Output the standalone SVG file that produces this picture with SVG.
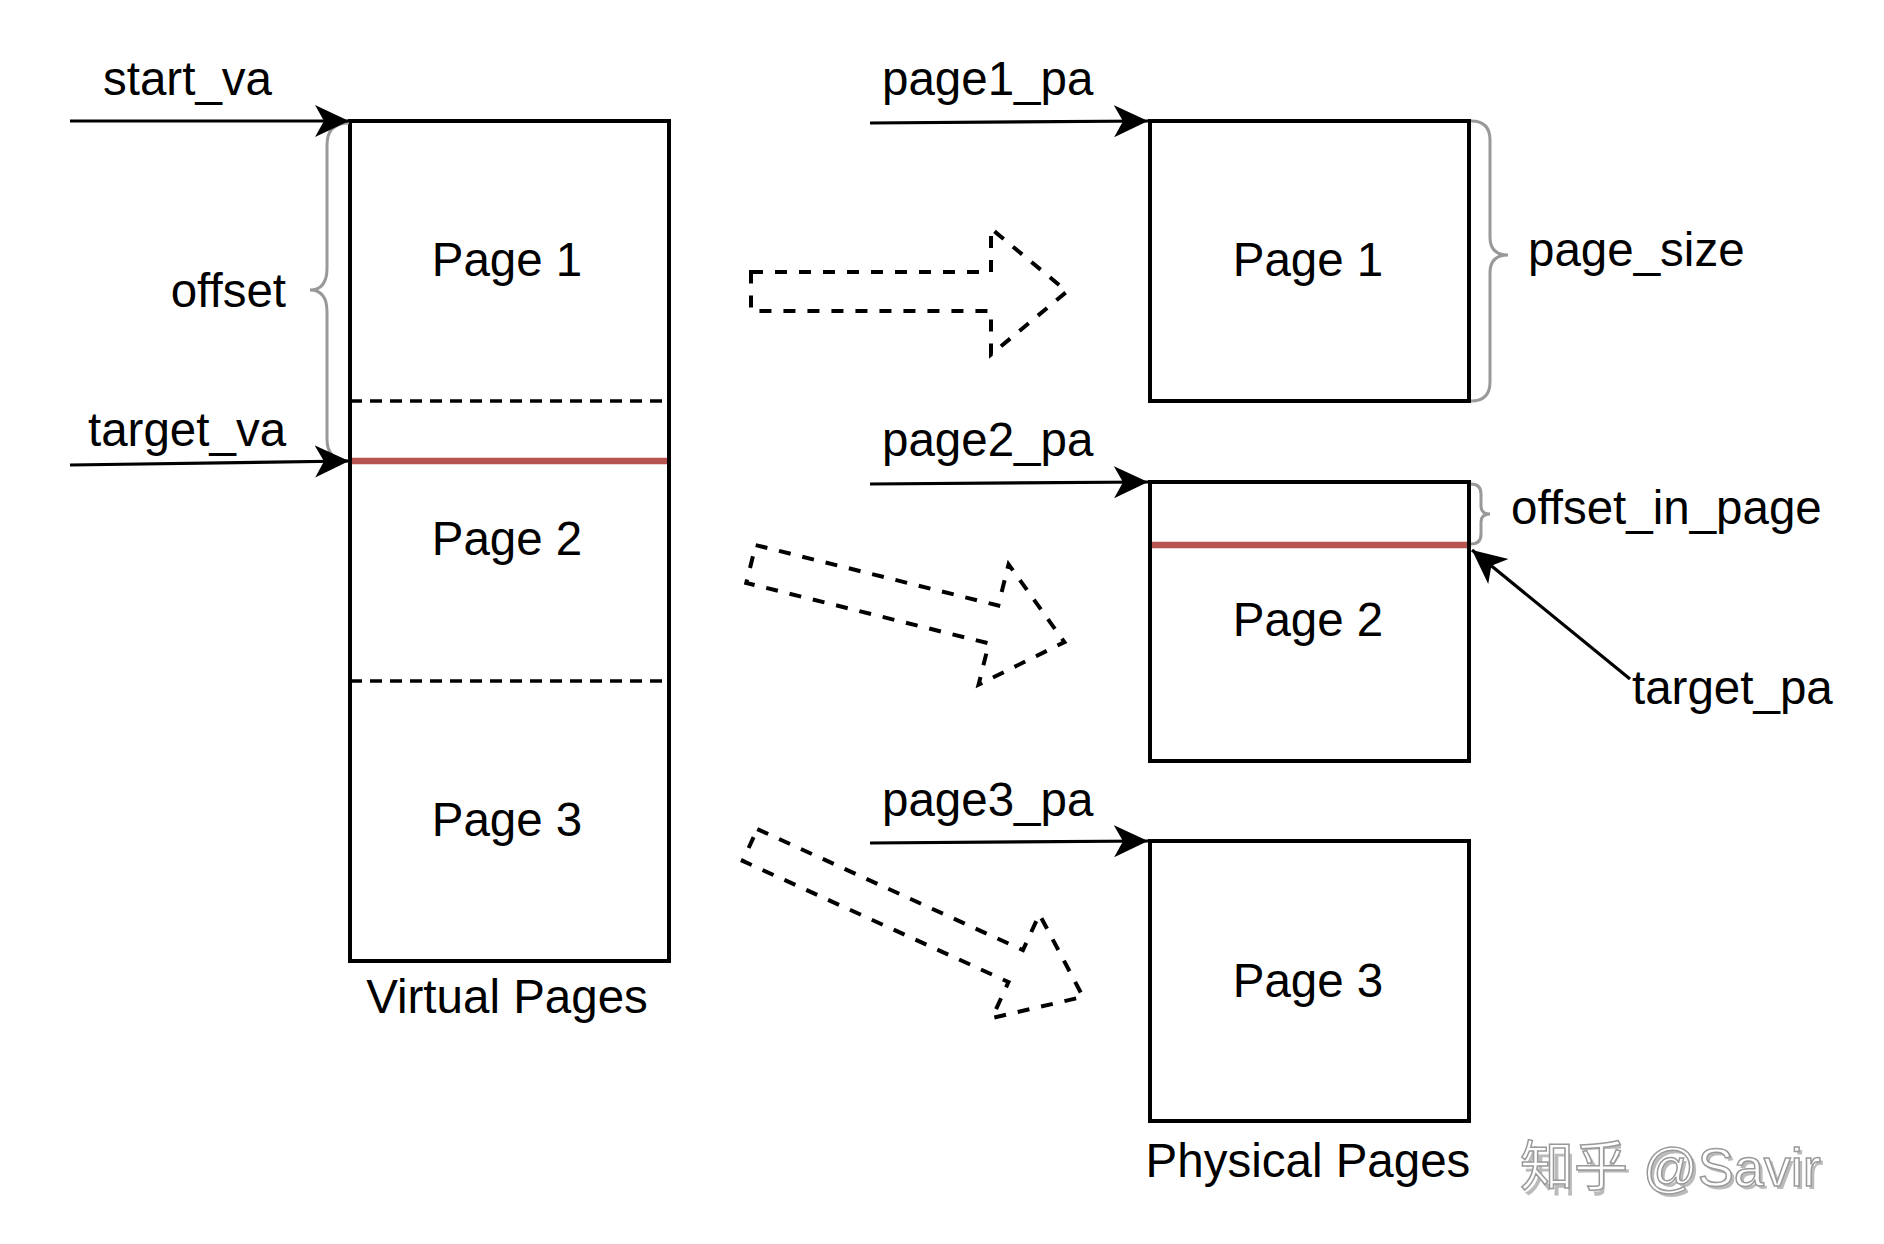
<svg xmlns="http://www.w3.org/2000/svg" width="1884" height="1244" viewBox="0 0 1884 1244">
<style>
text{font-family:"Liberation Sans",Arial,sans-serif;font-size:47.5px;fill:#000}
.c{text-anchor:middle}
.box{fill:#fff;stroke:#000;stroke-width:4}
.div{stroke:#000;stroke-width:3.5;stroke-dasharray:12 8;fill:none}
.red{stroke:#b85450;stroke-width:6.5}
.brace{fill:none;stroke:#999;stroke-width:3}
.arr{fill:none;stroke:#000;stroke-width:3.2;marker-end:url(#ah)}
.big{fill:none;stroke:#000;stroke-width:4;stroke-dasharray:12 12;stroke-linejoin:miter}
.wm{font-size:54px;fill:#fff;stroke:#999;stroke-width:1.5}
.wms{font-size:54px;fill:#bbb}
</style>
<defs>
<marker id="ah" markerUnits="userSpaceOnUse" markerWidth="40" markerHeight="40" viewBox="0 -20 40 40" refX="34" refY="0" orient="auto">
<path d="M0,-16 L34,0 L0,16 L9,0 Z" fill="#000"/>
</marker>
</defs>

<g id="virtual-pages">
<rect class="box" x="350" y="121" width="319" height="840"/>
<line class="div" x1="350" y1="401" x2="669" y2="401"/>
<line class="div" x1="350" y1="681" x2="669" y2="681"/>
<line class="red" x1="352" y1="461" x2="667" y2="461"/>
<text class="c" x="507" y="276">Page 1</text>
<text class="c" x="507" y="555">Page 2</text>
<text class="c" x="507" y="836">Page 3</text>
<text class="c" x="507" y="1013">Virtual Pages</text>
</g>

<g id="offset-brace">
<path class="brace" d="M349,123 Q327,123 327,145 L327,268 Q327,290 310,290 Q327,290 327,312 L327,439 Q327,461 349,461"/>
<text x="286" y="307" text-anchor="end">offset</text>
</g>

<g id="phys-page1">
<rect class="box" x="1150" y="121" width="319" height="280"/>
<text class="c" x="1308" y="276">Page 1</text>
</g>
<g id="phys-page2">
<rect class="box" x="1150" y="482" width="319" height="279"/>
<line class="red" x1="1152" y1="545" x2="1467" y2="545"/>
<text class="c" x="1308" y="636">Page 2</text>
</g>
<g id="phys-page3">
<rect class="box" x="1150" y="841" width="319" height="280"/>
<text class="c" x="1308" y="997">Page 3</text>
</g>
<text class="c" x="1308" y="1177">Physical Pages</text>

<g id="page-size-brace">
<path class="brace" d="M1471,121 Q1490,121 1490,140 L1490,237 Q1490,255 1508,255 Q1490,255 1490,273 L1490,382 Q1490,401 1471,401"/>
<text x="1528" y="266">page_size</text>
</g>
<g id="offset-in-page-brace">
<path class="brace" d="M1471,484 Q1481,484 1481,494 L1481,506 Q1481,514 1490,514 Q1481,514 1481,522 L1481,534 Q1481,544 1471,544"/>
<text x="1511" y="524">offset_in_page</text>
</g>

<g id="labels">
<text x="103" y="95">start_va</text>
<text x="88" y="446">target_va</text>
<text x="882" y="95">page1_pa</text>
<text x="882" y="456">page2_pa</text>
<text x="882" y="816">page3_pa</text>
<text x="1632" y="704">target_pa</text>
</g>

<g id="connectors">
<line class="arr" x1="70" y1="121" x2="349" y2="121"/>
<line class="arr" x1="70" y1="465" x2="349" y2="461"/>
<line class="arr" x1="870" y1="123" x2="1148" y2="121"/>
<line class="arr" x1="870" y1="484" x2="1148" y2="482"/>
<line class="arr" x1="870" y1="843" x2="1148" y2="841"/>
<line class="arr" x1="1630" y1="679" x2="1472" y2="550"/>
</g>

<g id="map-arrows">
<path class="big" d="M0,-19.5 L240,-19.5 L240,-63 L316,0 L240,63 L240,19.5 L0,19.5 Z" transform="translate(751,291.5)"/>
<path class="big" d="M0,-19.5 L250,-19.5 L250,-62 L323,0 L250,62 L250,19.5 L0,19.5 Z" transform="translate(751,564) rotate(14)"/>
<path class="big" d="M0,-17.5 L292,-17.5 L292,-57 L366,0 L292,57 L292,17.5 L0,17.5 Z" transform="translate(750,845) rotate(24.5)"/>
</g>

<g id="watermark">
<text class="wms" x="1523" y="1189">知乎 @Savir</text>
<text class="wm" x="1520" y="1186" style="font-family:'Liberation Sans','Noto Sans CJK SC',sans-serif">知乎 @Savir</text>
</g>
</svg>
